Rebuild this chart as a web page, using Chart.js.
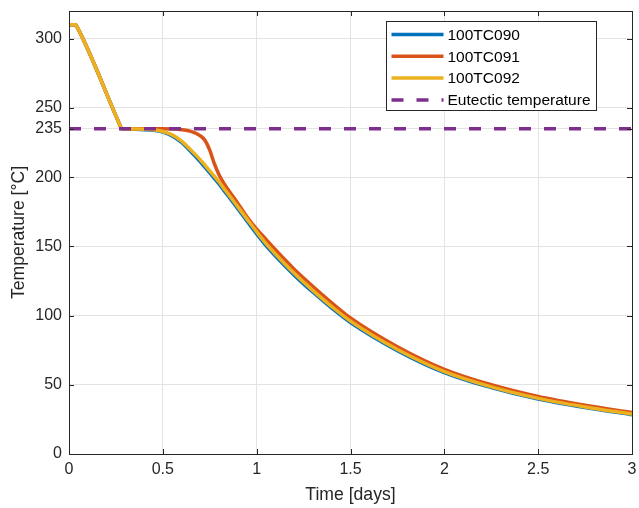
<!DOCTYPE html>
<html>
<head>
<meta charset="utf-8">
<script src="https://cdn.jsdelivr.net/npm/chart.js@4"></script>
<style>
  html, body { margin: 0; padding: 0; background: #fff; }
  canvas { display: block; }
</style>
</head>
<body>
<canvas id="c" width="639" height="508"></canvas>
<script>
// time axis (days)
const times = [0, 0.035, 0.045, 0.27, 0.28, 0.29, 0.35, 0.45, 0.5, 0.55, 0.6, 0.65, 0.7, 0.725, 0.75, 0.775, 0.8, 0.83, 0.85,
  0.9, 0.95, 1.0, 1.05, 1.1, 1.2, 1.3, 1.4, 1.5, 1.75, 2.0, 2.25, 2.5, 2.75, 3.0];

// temperatures per thermocouple (°C)
const tc090 = [310, 310, 308, 238, 235, 234.9, 234.6, 233.9, 232.6, 229.8, 225, 218.3, 211, 207, 203, 199, 195, 189.5, 186,
  177, 168, 159, 150.5, 143, 129.2, 116.8, 105.4, 95, 74.7, 58.8, 48, 39.7, 33.6, 28.4];
const tc091 = [310, 310, 308, 238, 235, 235, 235, 235, 235, 234.8, 234.3, 233, 229.8, 226.5, 219.5, 209.5, 201.5, 194.5, 190.5,
  181, 171, 162.5, 155, 147.5, 133.5, 121, 109.2, 98.3, 77.5, 61.2, 50, 41.5, 35.2, 30];
const tc092 = [310, 310, 308, 238, 235, 234.9, 234.8, 234.2, 233, 230.5, 226, 219.5, 212.5, 208.5, 204.5, 200.5, 196.5, 191, 187.5,
  178.5, 169.5, 160.5, 152, 144.5, 130.5, 118, 106.5, 96, 75.5, 59.5, 48.5, 40.2, 34, 28.8];

const eutecticTemp = 235;
const eutecticRange = [0, 3];

const xTicks = [0, 0.5, 1, 1.5, 2, 2.5, 3];
const yTicks = [0, 50, 100, 150, 200, 235, 250, 300];

const seriesNames = ['100TC090', '100TC091', '100TC092', 'Eutectic temperature'];
const seriesColors = ['#0072BD', '#D95319', '#EDB120', '#7E2F8E'];

const AXIS = '#262626';
const DASH = [12, 13];
const FONT = '"Liberation Sans", Arial, sans-serif';

const toXY = (vals) => vals.map((v, i) => ({ x: times[i], y: v }));

// box + inward ticks + legend, MATLAB style
const matlabAxesPlugin = {
  id: 'matlabAxes',
  afterDraw(chart) {
    const ctx = chart.ctx;
    const a = chart.chartArea;
    const xs = chart.scales.x, ys = chart.scales.y;
    const tl = 5;

    ctx.save();
    ctx.strokeStyle = AXIS;
    ctx.lineWidth = 1;
    ctx.strokeRect(Math.round(a.left) + 0.5, Math.round(a.top) + 0.5,
      Math.round(a.right - a.left), Math.round(a.bottom - a.top));

    ctx.beginPath();
    xTicks.forEach(v => {
      const px = Math.round(xs.getPixelForValue(v)) + 0.5;
      ctx.moveTo(px, a.bottom); ctx.lineTo(px, a.bottom - tl);
      ctx.moveTo(px, a.top); ctx.lineTo(px, a.top + tl);
    });
    yTicks.forEach(v => {
      const py = Math.round(ys.getPixelForValue(v)) + 0.5;
      ctx.moveTo(a.left, py); ctx.lineTo(a.left + tl, py);
      ctx.moveTo(a.right, py); ctx.lineTo(a.right - tl, py);
    });
    ctx.stroke();

    // legend
    const bx = Math.round(a.right - 246) + 0.5, by = Math.round(a.top + 10) + 0.5;
    const bw = 210, bh = 89;
    ctx.fillStyle = '#fff';
    ctx.fillRect(bx, by, bw, bh);
    ctx.strokeStyle = AXIS;
    ctx.strokeRect(bx, by, bw, bh);

    ctx.font = '15.5px ' + FONT;
    ctx.textBaseline = 'middle';
    ctx.textAlign = 'left';
    chart.data.datasets.forEach((ds, i) => {
      const ry = by + 13 + i * 21.8;
      ctx.strokeStyle = ds.borderColor;
      ctx.lineWidth = ds.borderWidth;
      ctx.setLineDash(ds.borderDash || []);
      ctx.beginPath();
      ctx.moveTo(bx + 5, ry);
      ctx.lineTo(bx + 57, ry);
      ctx.stroke();
      ctx.setLineDash([]);
      ctx.fillStyle = '#000';
      ctx.fillText(ds.label, bx + 61, ry + 1);
    });
    ctx.restore();
  }
};

const lineDs = (i, vals, order) => ({
  label: seriesNames[i],
  data: toXY(vals),
  borderColor: seriesColors[i],
  borderWidth: 3.5,
  pointRadius: 0,
  cubicInterpolationMode: 'monotone',
  order
});

new Chart(document.getElementById('c'), {
  type: 'line',
  data: {
    datasets: [
      lineDs(0, tc090, 3),
      lineDs(1, tc091, 2),
      lineDs(2, tc092, 1),
      {
        label: seriesNames[3],
        data: eutecticRange.map(x => ({ x, y: eutecticTemp })),
        borderColor: seriesColors[3],
        borderWidth: 3.5,
        borderDash: DASH,
        pointRadius: 0,
        order: 0
      }
    ]
  },
  plugins: [matlabAxesPlugin],
  options: {
    responsive: false,
    animation: false,
    layout: { padding: { left: 0, right: 7, top: 11, bottom: 0 } },
    plugins: { legend: { display: false }, tooltip: { enabled: false } },
    scales: {
      x: {
        type: 'linear',
        min: 0, max: 3,
        afterBuildTicks(scale) { scale.ticks = xTicks.map(v => ({ value: v })); },
        afterFit(scale) {
          scale.height = 54;
          scale.paddingLeft = 0;
          scale.paddingRight = 0;
        },
        ticks: {
          autoSkip: false, maxRotation: 0, padding: 6,
          color: AXIS,
          font: { family: FONT, size: 16 },
          callback: v => String(v)
        },
        grid: { color: '#e3e3e3', drawTicks: false },
        border: { display: false },
        title: {
          display: true, text: 'Time [days]', color: AXIS,
          font: { family: FONT, size: 17.6 },
          padding: { top: 0, bottom: 2 }
        }
      },
      y: {
        min: 0, max: 320,
        afterBuildTicks(scale) { scale.ticks = yTicks.map(v => ({ value: v })); },
        afterFit(scale) {
          scale.width = 69;
          scale.paddingTop = 0;
          scale.paddingBottom = 0;
        },
        ticks: {
          autoSkip: false, padding: 7,
          color: AXIS,
          font: { family: FONT, size: 16 },
          callback: v => String(v)
        },
        grid: { color: '#e3e3e3', drawTicks: false },
        border: { display: false },
        title: {
          display: true, text: 'Temperature [°C]', color: AXIS,
          font: { family: FONT, size: 17.6 },
          padding: { top: 9, bottom: 0 }
        }
      }
    }
  }
});
</script>
</body>
</html>
